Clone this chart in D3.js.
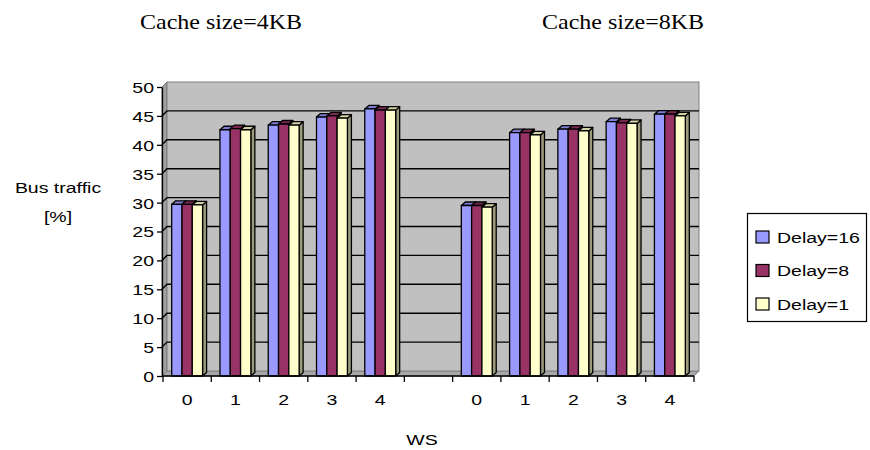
<!DOCTYPE html>
<html>
<head>
<meta charset="utf-8">
<script src="https://cdn.jsdelivr.net/npm/d3@7"></script>
<style>
  html, body { margin: 0; padding: 0; background: #ffffff; }
  svg { display: block; }
</style>
</head>
<body>
<svg id="chart" width="870" height="450"></svg>
<script>
// ---- data ----
const groupTitles = ["Cache size=4KB", "Cache size=8KB"];
const wsLabels = ["0", "1", "2", "3", "4"];
const seriesNames = ["Delay=16", "Delay=8", "Delay=1"];
const yTicks = [0, 5, 10, 15, 20, 25, 30, 35, 40, 45, 50];

// bus traffic [%] per WS value
const delay16_4KB = [29.7, 42.6, 43.4, 44.8, 46.2];
const delay8_4KB  = [29.7, 42.8, 43.6, 45.0, 46.0];
const delay1_4KB  = [29.6, 42.6, 43.4, 44.6, 46.0];
const delay16_8KB = [29.5, 42.1, 42.7, 44.0, 45.3];
const delay8_8KB  = [29.5, 42.1, 42.7, 43.8, 45.3];
const delay1_8KB  = [29.2, 41.7, 42.4, 43.7, 45.0];

// ---- styling ----
const SX = 1.3;                       // horizontal text stretch
const fronts = ["#9999FF", "#993366", "#FFFFCC"];
const tops   = ["#7C7CD2", "#7B2952", "#D2D2A6"];
const sides  = ["#5E5E9E", "#5E1F3F", "#9C9C7C"];
const sans = "Arial, 'Liberation Sans', sans-serif";
const serif = "'Times New Roman', 'Liberation Serif', serif";

// 11 category slots: five WS values, one empty slot, five WS values
const slots = d3.range(11);
const slotLabels = [...wsLabels, "", ...wsLabels];
const rows = [
  [...delay16_4KB, null, ...delay16_8KB],
  [...delay8_4KB,  null, ...delay8_8KB],
  [...delay1_4KB,  null, ...delay1_8KB]
];

const svg = d3.select("#chart");

const x = d3.scaleBand().domain(slots).range([163, 694]).padding(0);
const bw = x.bandwidth();
const inner = d3.scaleBand().domain(d3.range(3)).range([bw * 0.18, bw * 0.82]).padding(0);
const y = d3.scaleLinear().domain([0, 50]).range([376, 87]);

// wall depth and bar depth offsets
const WDX = 5, WDY = -5;
const BDX = 4, BDY = -3.5;

const x0 = 162, x1 = 694;
const y0 = y(0), yTop = y(50);

// ---- walls ----
const walls = svg.append("g");
// left side wall
walls.append("path")
  .attr("d", `M${x0},${y0}L${x0},${yTop}L${x0 + WDX},${yTop + WDY}L${x0 + WDX},${y0 + WDY}Z`)
  .attr("fill", "#a0a0a0").attr("stroke", "#707070").attr("stroke-width", 1);
// floor
walls.append("path")
  .attr("d", `M${x0},${y0}L${x1},${y0}L${x1 + WDX},${y0 + WDY}L${x0 + WDX},${y0 + WDY}Z`)
  .attr("fill", "#a8a8a8").attr("stroke", "#808080").attr("stroke-width", 1);
// back wall
walls.append("rect")
  .attr("x", x0 + WDX).attr("y", yTop + WDY)
  .attr("width", x1 - x0).attr("height", y0 - yTop)
  .attr("fill", "#C0C0C0").attr("stroke", "#808080").attr("stroke-width", 1);

// gridlines on back wall and side wall
const grid = svg.append("g").attr("stroke", "#000").attr("stroke-width", 1.4).attr("fill", "none");
grid.selectAll("path")
  .data(yTicks.filter(v => v > 0 && v < 50))
  .join("path")
  .attr("d", v => `M${x0},${y(v)}L${x0 + WDX},${y(v) + WDY}L${x1 + WDX},${y(v) + WDY}`);

// ---- bars ----
const bars = svg.append("g").attr("stroke", "#000").attr("stroke-width", 1.3).attr("stroke-linejoin", "round");
slots.forEach(i => {
  rows.forEach((row, s) => {
    const v = row[i];
    if (v == null) return;
    const bx = x(i) + inner(s);
    const w = inner.bandwidth();
    const by = y(v);
    const g = bars.append("g");
    // side
    g.append("path")
      .attr("d", `M${bx + w},${y0}L${bx + w},${by}L${bx + w + BDX},${by + BDY}L${bx + w + BDX},${y0 + BDY}Z`)
      .attr("fill", sides[s]);
    // top
    g.append("path")
      .attr("d", `M${bx},${by}L${bx + BDX},${by + BDY}L${bx + w + BDX},${by + BDY}L${bx + w},${by}Z`)
      .attr("fill", tops[s]);
    // front
    g.append("rect")
      .attr("x", bx).attr("y", by)
      .attr("width", w).attr("height", y0 - by)
      .attr("fill", fronts[s]);
  });
});

// ---- axes ----
const yAxis = svg.append("g")
  .attr("transform", `translate(${x0},0)`)
  .call(d3.axisLeft(y).tickValues(yTicks).tickSize(5).tickPadding(3).tickSizeOuter(0));
yAxis.select(".domain").attr("stroke", "#000").attr("stroke-width", 1.3);
yAxis.selectAll(".tick line").attr("stroke", "#000").attr("stroke-width", 1.3);
yAxis.selectAll(".tick text")
  .attr("font-family", sans).attr("font-size", 15).attr("fill", "#000")
  .attr("x", -8 / SX).attr("dy", "0.36em")
  .attr("transform", `scale(${SX},1)`);

const xAxis = svg.append("g")
  .attr("transform", `translate(0,${y0})`)
  .call(d3.axisBottom(x).tickSize(0).tickSizeOuter(0).tickPadding(0).tickFormat(i => slotLabels[i]));
xAxis.select(".domain").attr("stroke", "#000").attr("stroke-width", 1.3).attr("d", `M${x0},0H${x1}`);
xAxis.selectAll(".tick text")
  .attr("font-family", sans).attr("font-size", 15).attr("fill", "#000")
  .attr("y", 29).attr("dy", 0)
  .attr("transform", `scale(${SX},1)`)
  .attr("x", 0);
// category boundary ticks
xAxis.selectAll(".bound")
  .data(d3.range(12))
  .join("line")
  .attr("class", "bound")
  .attr("x1", k => (k < 11 ? x(k) : x(10) + bw)).attr("x2", k => (k < 11 ? x(k) : x(10) + bw))
  .attr("y1", 0).attr("y2", 6)
  .attr("stroke", "#000").attr("stroke-width", 1.3);

// ---- text ----
function stretchedText(tx, ty, str, family, size, anchor, sx) {
  return svg.append("text")
    .attr("transform", `translate(${tx},${ty}) scale(${sx || SX},1)`)
    .attr("text-anchor", anchor || "middle")
    .attr("font-family", family).attr("font-size", size).attr("fill", "#000")
    .text(str);
}

stretchedText(140, 29, groupTitles[0], serif, 20, "start", 1.2);
stretchedText(542, 29, groupTitles[1], serif, 20, "start", 1.2);
stretchedText(58, 193, "Bus traffic", sans, 15);
stretchedText(58, 222, "[%]", sans, 15);
stretchedText(422, 445, "WS", sans, 15);

// ---- legend ----
const legend = svg.append("g");
legend.append("rect")
  .attr("x", 747.5).attr("y", 213.5).attr("width", 119).attr("height", 108)
  .attr("fill", "#fff").attr("stroke", "#000").attr("stroke-width", 1.2);
const legendY = d3.scalePoint().domain(d3.range(3)).range([237, 304]);
seriesNames.forEach((name, s) => {
  const cy = legendY(s);
  legend.append("rect")
    .attr("x", 756).attr("y", cy - 6).attr("width", 13).attr("height", 12)
    .attr("fill", fronts[s]).attr("stroke", "#000").attr("stroke-width", 1.2);
  legend.append("text")
    .attr("transform", `translate(777,${cy + 5.5}) scale(${SX},1)`)
    .attr("font-family", sans).attr("font-size", 15).attr("fill", "#000")
    .text(name);
});
</script>
</body>
</html>
